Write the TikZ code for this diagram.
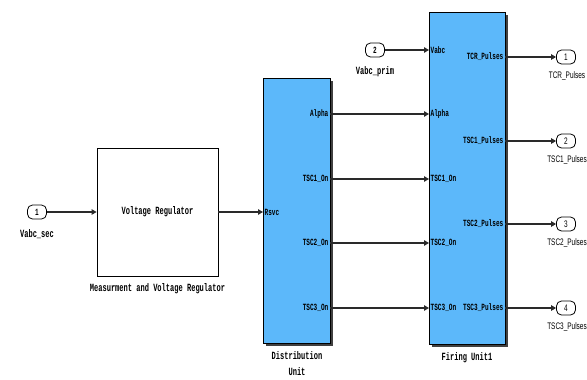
\documentclass[tikz,border=0pt]{standalone}
\usepackage{fontspec}
\usetikzlibrary{arrows.meta,shadows}
\newfontfamily\blkfont{Liberation Mono}[FakeStretch=0.64]
\newfontfamily\lblfont{Liberation Sans}[FakeStretch=0.68]
\definecolor{simblue}{HTML}{5CB8FA}
\definecolor{wire}{HTML}{2A2A2A}
\begin{document}
\begin{tikzpicture}[x=1pt,y=-1pt,
  blk/.style={draw=black, line width=0.8pt, fill=simblue, inner sep=0pt,
    drop shadow={shadow xshift=2.5pt, shadow yshift=-2.5pt, fill=black!75, opacity=1}},
  plainblk/.style={draw=black, line width=0.8pt, fill=white, inner sep=0pt},
  conn/.style={draw=wire, line width=1.1pt, -{Triangle[length=5pt,width=5.5pt]}},
  inport/.style={draw=black, line width=0.8pt, rounded corners=5pt, minimum width=19pt, minimum height=14pt, inner sep=0pt, font=\blkfont\bfseries\fontsize{9.5}{10}\selectfont},
  outport/.style={draw=black, line width=0.8pt, rounded corners=5pt, minimum width=19pt, minimum height=14pt, inner sep=0pt, font=\lblfont\fontsize{9.5}{10}\selectfont},
  portin/.style={anchor=west, inner sep=1.5pt, font=\blkfont\bfseries\fontsize{9.5}{10}\selectfont},
  portout/.style={anchor=east, inner sep=1.5pt, font=\blkfont\bfseries\fontsize{9.5}{10}\selectfont},
  lbl/.style={inner sep=0pt, font=\blkfont\bfseries\fontsize{11}{16}\selectfont},
  olbl/.style={inner sep=0pt, font=\lblfont\fontsize{9.5}{10}\selectfont}
]
\useasboundingbox (0,0) rectangle (587,380);

% blocks
\node[plainblk, minimum width=121pt, minimum height=128pt] (vr) at (157.5,212) {};
\node[lbl] (vrtext) at (157.5,212) {Voltage Regulator};
\node[lbl] (vrlbl) at (157.5,289) {Measurment and Voltage Regulator};

\node[blk, minimum width=67pt, minimum height=265pt] (du) at (296.5,210.5) {};
\node[lbl, align=center, anchor=north] (dulbl) at (297,351) {Distribution\\Unit};

\node[blk, minimum width=76pt, minimum height=332pt] (fu) at (467,178) {};
\node[lbl, anchor=north] (fulbl) at (467,352) {Firing Unit1};

% inports
\node[inport] (in1) at (37,212) {1};
\node[lbl] (in1lbl) at (37,234) {Vabc\_sec};
\node[inport] (in2) at (375,50) {2};
\node[lbl] (in2lbl) at (375,72) {Vabc\_prim};

% port coordinates
\coordinate (du-rsvc) at (263,212);
\coordinate (du-alpha) at (330,114);
\coordinate (du-tsc1) at (330,179);
\coordinate (du-tsc2) at (330,243);
\coordinate (du-tsc3) at (330,308);
\coordinate (fu-vabc) at (429,50);
\coordinate (fu-alpha) at (429,114);
\coordinate (fu-tsc1) at (429,179);
\coordinate (fu-tsc2) at (429,243);
\coordinate (fu-tsc3) at (429,308);
\coordinate (fu-tcrp) at (505,57);
\coordinate (fu-tsc1p) at (505,141);
\coordinate (fu-tsc2p) at (505,224);
\coordinate (fu-tsc3p) at (505,308);

% port labels
\node[portin] (l-rsvc) at (du-rsvc) {Rsvc};
\node[portout] (l-dalpha) at (du-alpha) {Alpha};
\node[portout] (l-dtsc1) at (du-tsc1) {TSC1\_On};
\node[portout] (l-dtsc2) at (du-tsc2) {TSC2\_On};
\node[portout] (l-dtsc3) at (du-tsc3) {TSC3\_On};
\node[portin] (l-fvabc) at (fu-vabc) {Vabc};
\node[portin] (l-falpha) at (fu-alpha) {Alpha};
\node[portin] (l-ftsc1) at (fu-tsc1) {TSC1\_On};
\node[portin] (l-ftsc2) at (fu-tsc2) {TSC2\_On};
\node[portin] (l-ftsc3) at (fu-tsc3) {TSC3\_On};
\node[portout] (l-ftcrp) at (fu-tcrp) {TCR\_Pulses};
\node[portout] (l-ftsc1p) at (fu-tsc1p) {TSC1\_Pulses};
\node[portout] (l-ftsc2p) at (fu-tsc2p) {TSC2\_Pulses};
\node[portout] (l-ftsc3p) at (fu-tsc3p) {TSC3\_Pulses};

% outports
\node[outport] (o1) at (566,57) {1};
\node[olbl] (o1lbl) at (567,76) {TCR\_Pulses};
\node[outport] (o2) at (566,141) {2};
\node[olbl] (o2lbl) at (567,160) {TSC1\_Pulses};
\node[outport] (o3) at (566,224) {3};
\node[olbl] (o3lbl) at (567,243) {TSC2\_Pulses};
\node[outport] (o4) at (566,308) {4};
\node[olbl] (o4lbl) at (567,327) {TSC3\_Pulses};

% connectors
\draw[conn] (in1) -- (vr);
\draw[conn] (vr.east |- du-rsvc) -- (du-rsvc);
\draw[conn] (in2) -- (fu-vabc);
\draw[conn] (du-alpha) -- (fu-alpha);
\draw[conn] (du-tsc1) -- (fu-tsc1);
\draw[conn] (du-tsc2) -- (fu-tsc2);
\draw[conn] (du-tsc3) -- (fu-tsc3);
\draw[conn] (fu-tcrp) -- (o1);
\draw[conn] (fu-tsc1p) -- (o2);
\draw[conn] (fu-tsc2p) -- (o3);
\draw[conn] (fu-tsc3p) -- (o4);
\end{tikzpicture}
\end{document}
